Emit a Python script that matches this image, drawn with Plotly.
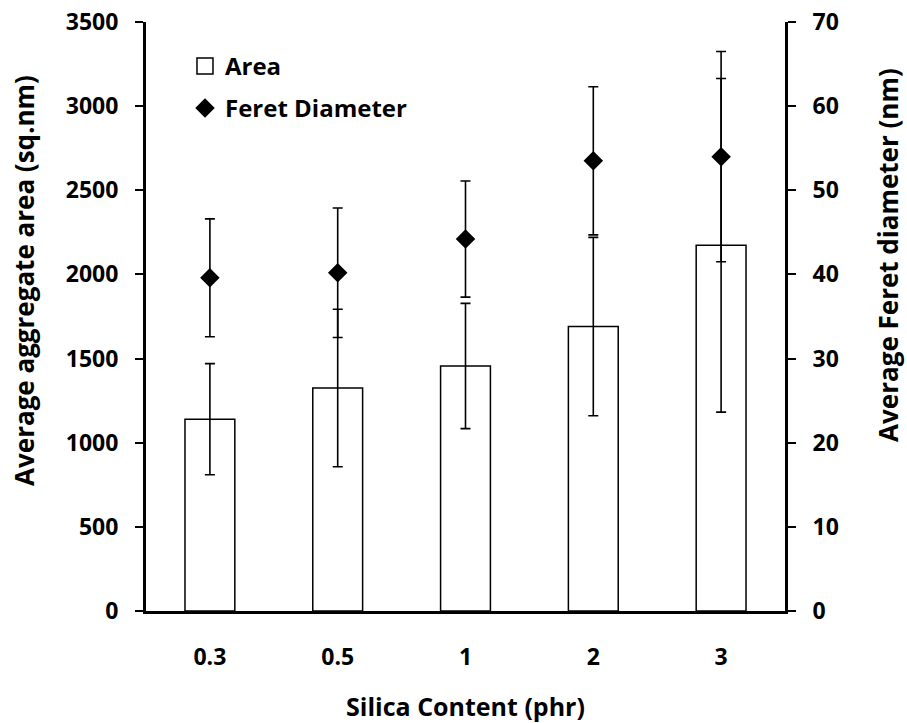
import plotly.graph_objects as go

# Silica loading levels (phr)
silica = ["0.3", "0.5", "1", "2", "3"]

# Average aggregate area (sq.nm) and its standard deviation
area = [1140, 1325, 1456, 1690, 2173]
area_err = [330, 468, 372, 530, 991]

# Average Feret diameter (nm) and its standard deviation
feret = [39.6, 40.2, 44.2, 53.5, 54.0]
feret_err = [7.0, 7.7, 6.9, 8.8, 12.5]

left_ticks = [0, 500, 1000, 1500, 2000, 2500, 3000, 3500]
right_ticks = [0, 10, 20, 30, 40, 50, 60, 70]

FAMILY = "Open Sans"
TICK_FONT = dict(family=FAMILY, size=23, color="black", weight="bold")
TITLE_FONT = dict(family=FAMILY, size=25, color="black", weight="bold")
YTITLE_FONT = dict(family=FAMILY, size=26, color="black", weight="bold")

fig = go.Figure()

fig.add_trace(go.Bar(
    x=silica, y=area, name="Area", showlegend=False,
    marker=dict(color="white", line=dict(color="black", width=1.5)),
    error_y=dict(type="data", array=area_err, color="black", thickness=1.6, width=5),
    yaxis="y",
))

fig.add_trace(go.Scatter(
    x=silica, y=feret, name="Feret Diameter", mode="markers",
    legendgroup="feret", legendrank=2,
    marker=dict(symbol="diamond", size=15, color="black"),
    error_y=dict(type="data", array=feret_err, color="black", thickness=1.6, width=5),
    yaxis="y2",
))

# legend key for the bars: an open square like the bar outline
fig.add_trace(go.Scatter(
    x=[None], y=[None], name="Area", mode="markers",
    legendgroup="area", legendrank=1,
    marker=dict(symbol="square-open", size=16, color="black", line=dict(width=1.5)),
    yaxis="y",
))

fig.update_layout(
    width=907, height=723,
    margin=dict(l=146, r=122, t=22, b=112),
    paper_bgcolor="white", plot_bgcolor="white",
    bargap=0.61,
    showlegend=True,
    legend=dict(
        x=0.061, y=0.963, xanchor="left", yanchor="top",
        font=dict(family=FAMILY, size=24, color="black", weight="bold"),
        bgcolor="rgba(0,0,0,0)", itemwidth=30, traceorder="grouped",
        tracegroupgap=8,
    ),
    xaxis=dict(
        type="category", showline=True, linecolor="black", linewidth=3,
        ticks="", tickfont=TICK_FONT, ticklabelstandoff=23, automargin=False,
        title=dict(text="Silica Content (phr)", font=TITLE_FONT, standoff=33),
        showgrid=False, zeroline=False,
    ),
    yaxis=dict(
        range=[0, 3500], tickvals=left_ticks, showline=True, linecolor="black",
        linewidth=3, ticks="outside", ticklen=8, tickwidth=2, tickcolor="black",
        tickfont=TICK_FONT, ticklabelstandoff=12, automargin=False,
        showgrid=False, zeroline=False,
    ),
    yaxis2=dict(
        range=[0, 70], tickvals=right_ticks, overlaying="y", side="right",
        showline=True, linecolor="black", linewidth=3, ticks="outside",
        ticklen=8, tickwidth=2, tickcolor="black", tickfont=TICK_FONT,
        ticklabelstandoff=12, automargin=False,
        showgrid=False, zeroline=False,
    ),
    annotations=[
        dict(text="Average aggregate area (sq.nm)", textangle=-90,
             xref="paper", yref="paper", x=-0.191, y=0.562,
             xanchor="center", yanchor="middle", showarrow=False,
             font=YTITLE_FONT),
        dict(text="Average Feret diameter (nm)", textangle=-90,
             xref="paper", yref="paper", x=1.16, y=0.605,
             xanchor="center", yanchor="middle", showarrow=False,
             font=YTITLE_FONT),
    ],
)

fig.write_html("out.html")
